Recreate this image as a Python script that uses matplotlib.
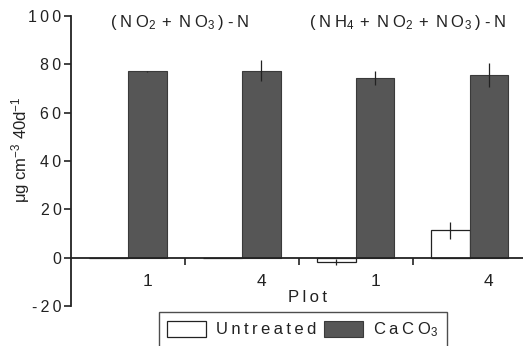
import matplotlib.pyplot as plt
import numpy as np

plt.rcParams["font.family"] = ["Liberation Sans", "DejaVu Sans"]
plt.rcParams["mathtext.fontset"] = "custom"
plt.rcParams["mathtext.rm"] = "Liberation Sans"
plt.rcParams["mathtext.it"] = "Liberation Sans"

# plots within each N fraction
plot_labels = ["1", "4", "1", "4"]
untreated = [0.0, 0.0, -1.7, 11.2]
untreated_err = [0.0, 0.0, 1.2, 3.7]
caco3 = [77.0, 77.4, 74.2, 75.6]
caco3_err = [0.3, 4.5, 2.8, 5.0]
series_names = ["Untreated", ["C", "a", "C", "O_3"]]
group_titles = [
    ["(", "N", "O_2", "+", "N", "O_3", ")", "\u2010", "N"],
    ["(", "N", "H_4", "+", "N", "O_2", "+", "N", "O_3", ")", "\u2010", "N"],
]

TXT = "#222222"
FS = 11.5


def spaced(s):
    return "\u2009".join(s)


def spaced_math(tokens):
    return r"$\mathrm{" + r"\;".join(tokens) + "}$"


fig = plt.figure(figsize=(5.23, 3.46), dpi=100)
ax = fig.add_axes([0.136, 0.116, 0.864, 0.838])

x = np.arange(len(plot_labels))
w = 0.34
ax.bar(x - w / 2, untreated, w, color="white", edgecolor=TXT, linewidth=0.9,
       label="u", zorder=2)
ax.bar(x + w / 2, caco3, w, color="#565656", edgecolor="#3a3a3a", linewidth=0.8,
       label="c", zorder=2)
ax.errorbar(x - w / 2, untreated, yerr=untreated_err, fmt="none", ecolor=TXT,
            elinewidth=0.9, capsize=0, zorder=3)
ax.errorbar(x + w / 2, caco3, yerr=caco3_err, fmt="none", ecolor=TXT,
            elinewidth=0.9, capsize=0, zorder=3)

ax.set_xlim(-0.5, 3.47)
ax.set_ylim(-20, 100)
ax.set_yticks(np.arange(-20, 101, 20))
ax.set_yticklabels([spaced(str(v)) for v in range(-20, 101, 20)])

ax.set_xticks(x + w / 2)
ax.set_xticklabels(plot_labels)
ax.set_xticks([0.5, 1.5, 2.5], minor=True)
ax.tick_params(axis="x", which="major", length=0, pad=12, labelsize=12.5,
               labelcolor=TXT)
ax.tick_params(axis="x", which="minor", length=5, width=1.2, direction="out",
               color=TXT)
ax.tick_params(axis="y", length=5, width=1.2, pad=2, color=TXT, labelsize=FS,
               labelcolor=TXT)

for side in ("top", "right"):
    ax.spines[side].set_visible(False)
ax.spines["bottom"].set_position(("data", 0))
for side in ("left", "bottom"):
    ax.spines[side].set_linewidth(1.3)
    ax.spines[side].set_color(TXT)

ax.set_ylabel(r"$\mu$g cm$^{-3}$ 40d$^{-1}$", fontsize=12, color=TXT)
ax.yaxis.set_label_coords(-0.087, 0.54)
ax.text(0.522, 0.028, spaced("Plot"), transform=ax.transAxes, ha="center",
        va="center", fontsize=FS + 0.5, color=TXT)

ax.text(0.456, 97.3, spaced_math(group_titles[0]), ha="center", va="center",
        fontsize=12, color=TXT)
ax.text(2.46, 97.3, spaced_math(group_titles[1]), ha="center", va="center",
        fontsize=12, color=TXT)

leg = ax.legend(loc="center", bbox_to_anchor=(0.513, -0.082), ncol=2, frameon=True,
                fancybox=False, edgecolor=TXT, fontsize=FS + 0.5,
                handlelength=2.3, handleheight=1.1, columnspacing=0.5,
                handletextpad=0.6, borderpad=0.5, borderaxespad=0)
leg.get_frame().set_linewidth(1.0)
leg.get_texts()[0].set_text(spaced(series_names[0]))
leg.get_texts()[1].set_text(spaced_math(series_names[1]))
for t in leg.get_texts():
    t.set_color(TXT)

fig.savefig("out.png", dpi=100)
